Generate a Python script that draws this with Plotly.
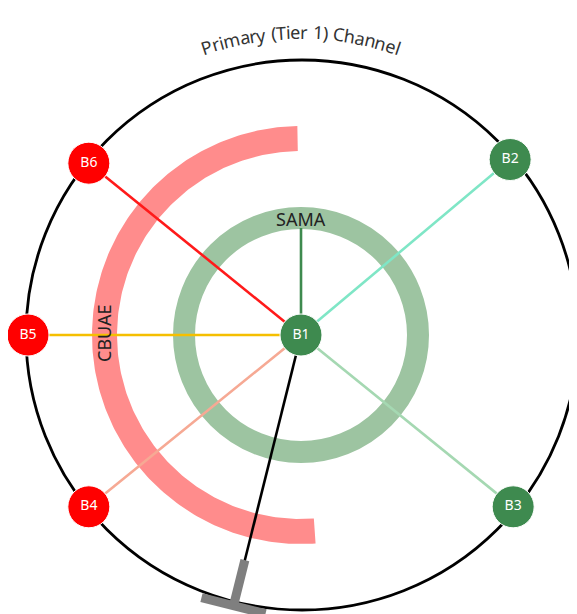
import numpy as np
import plotly.graph_objects as go

# ---------------- data ----------------
title_text = "Primary (Tier 1) Channel"
hub_name = "B1"
spoke_names = ["B2", "B3", "B4", "B5", "B6"]
spoke_angle_deg = [40, -39, -141, 180, 141]      # placement around the channel ring
spoke_group = ["green", "green", "red", "red", "red"]
ring_label = "SAMA"        # full ring around hub
arc_label = "CBUAE"        # partial arc on the left
arc_span_deg = [91, 274]   # start / end angle of the partial arc
gateway_angle_deg = 256    # "T" connector on the outer channel

# ---------------- styles ----------------
group_color = {"green": "#3E8A4F", "red": "#FF0000"}
edge_color = {"B2": "#7FE6C6", "B3": "#A5D8B2", "B4": "#F6A994",
              "B5": "#F5BF00", "B6": "#FF1A1A"}
R_OUT = 275
R_NODE = 273
R_RING, W_RING = 117, 22
R_ARC_IN, R_ARC_OUT = 184, 209
FONT = "Noto Sans"

fig = go.Figure()

def pol(r, a_deg):
    a = np.radians(a_deg)
    return r * np.cos(a), r * np.sin(a)

# outer channel circle and SAMA ring (shapes below traces)
fig.add_shape(type="circle", x0=-R_OUT, y0=-R_OUT, x1=R_OUT + 2, y1=R_OUT,
              line=dict(color="black", width=2.8), layer="below")
fig.add_shape(type="circle", x0=-R_RING, y0=-R_RING, x1=R_RING, y1=R_RING,
              line=dict(color="#9DC4A1", width=W_RING), layer="below")

# CBUAE partial arc (annular sector)
t = np.linspace(arc_span_deg[0], arc_span_deg[1], 200)
xo, yo = pol(R_ARC_OUT, t)
xi, yi = pol(R_ARC_IN, t[::-1])
fig.add_trace(go.Scatter(x=np.r_[xo, xi, xo[0]], y=np.r_[yo, yi, yo[0]],
                         fill="toself", fillcolor="#FF8C8C", mode="lines",
                         line=dict(width=0), hoverinfo="skip", showlegend=False))

# spokes from hub
for name, ang in zip(spoke_names, spoke_angle_deg):
    x, y = pol(R_NODE, ang)
    fig.add_trace(go.Scatter(x=[0, x], y=[0, y], mode="lines",
                             line=dict(color=edge_color[name], width=2.6),
                             hoverinfo="skip", showlegend=False))

# hub to SAMA ring
fig.add_trace(go.Scatter(x=[0, 0], y=[0, R_RING - 10], mode="lines",
                         line=dict(color="#3E8A4F", width=2.6),
                         hoverinfo="skip", showlegend=False))

# hub to gateway
gx, gy = pol(236, gateway_angle_deg)
fig.add_trace(go.Scatter(x=[0, gx], y=[0, gy], mode="lines",
                         line=dict(color="black", width=2.6),
                         hoverinfo="skip", showlegend=False))
# T connector
sx0, sy0 = pol(232, gateway_angle_deg)
sx1, sy1 = pol(279, gateway_angle_deg)
fig.add_trace(go.Scatter(x=[sx0, sx1], y=[sy0, sy1], mode="lines",
                         line=dict(color="#7F7F7F", width=9),
                         hoverinfo="skip", showlegend=False))
tang = np.radians(gateway_angle_deg + 90)
cx, cy = pol(279, gateway_angle_deg)
fig.add_trace(go.Scatter(x=[cx - 33 * np.cos(tang), cx + 33 * np.cos(tang)],
                         y=[cy - 33 * np.sin(tang), cy + 33 * np.sin(tang)],
                         mode="lines", line=dict(color="#7F7F7F", width=9),
                         hoverinfo="skip", showlegend=False, cliponaxis=False))

# nodes
nx = [0] + [pol(R_NODE, a)[0] for a in spoke_angle_deg]
ny = [0] + [pol(R_NODE, a)[1] for a in spoke_angle_deg]
ncol = [group_color["green"]] + [group_color[g] for g in spoke_group]
fig.add_trace(go.Scatter(x=nx, y=ny, mode="markers+text",
                         text=[hub_name] + spoke_names,
                         textposition="middle center",
                         textfont=dict(color="white", size=14, family=FONT),
                         marker=dict(size=42, color=ncol,
                                     line=dict(color="white", width=1)),
                         cliponaxis=False,
                         hoverinfo="skip", showlegend=False))

annotations = [
    dict(x=0, y=116, text=ring_label, showarrow=False,
         font=dict(size=18, color="#222222", family=FONT),
         xanchor="center", yanchor="middle"),
    dict(x=-197, y=2, text=arc_label, showarrow=False, textangle=-90,
         font=dict(size=18, color="#222222", family=FONT),
         xanchor="center", yanchor="middle"),
]

# curved title along the top of the channel circle
widths = {"P": .603, "r": .408, "i": .253, "m": .930, "a": .556, "y": .501,
          " ": .260, "(": .297, "T": .558, "e": .561, "1": .572, ")": .297,
          "C": .635, "h": .614, "n": .614, "l": .253}
fs = 18
R_T = 303
adv = [widths.get(c, .56) * fs for c in title_text]
total = sum(adv)
s = -total / 2
for c, w in zip(title_text, adv):
    mid = s + w / 2
    s += w
    if c == " ":
        continue
    ang = 90 - np.degrees(mid / R_T)
    x, y = pol(R_T, ang)
    annotations.append(dict(x=x, y=y, text=c, showarrow=False,
                            textangle=(90 - ang),
                            font=dict(size=fs, color="#333333", family=FONT),
                            xanchor="center", yanchor="middle"))

# the page body has an 8px margin: size the figure so it ends at the window edge
fig.update_layout(
    width=569, height=606,
    margin=dict(l=0, r=0, t=0, b=0),
    paper_bgcolor="white", plot_bgcolor="white",
    xaxis=dict(range=[-293, 276], visible=False, fixedrange=True),
    yaxis=dict(range=[-279, 327], visible=False, fixedrange=True),
    annotations=annotations,
    showlegend=False,
)

fig.write_html("out.html")
